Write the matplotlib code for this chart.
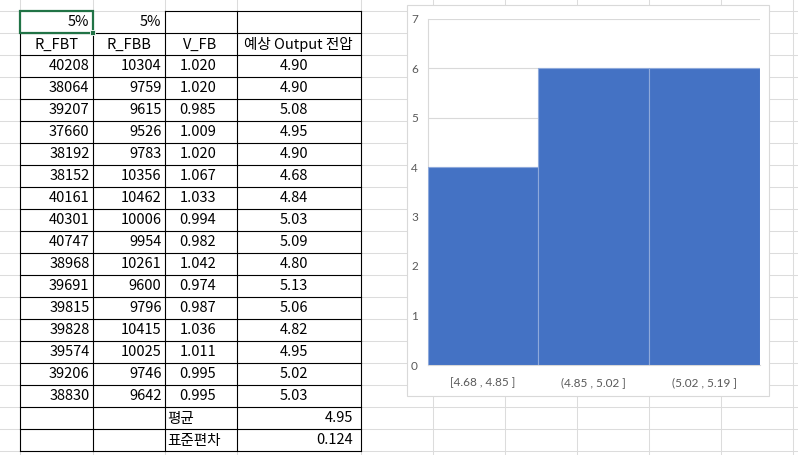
import matplotlib.pyplot as plt
import matplotlib.patches as patches

# table values read from the sheet
r_fbt = [40208, 38064, 39207, 37660, 38192, 38152, 40161, 40301, 40747, 38968, 39691, 39815, 39828, 39574, 39206, 38830]
r_fbb = [10304, 9759, 9615, 9526, 9783, 10356, 10462, 10006, 9954, 10261, 9600, 9796, 10415, 10025, 9746, 9642]
v_fb = [1.020, 1.020, 0.985, 1.009, 1.020, 1.067, 1.033, 0.994, 0.982, 1.042, 0.974, 0.987, 1.036, 1.011, 0.995, 0.995]
v_out = [4.90, 4.90, 5.08, 4.95, 4.90, 4.68, 4.84, 5.03, 5.09, 4.80, 5.13, 5.06, 4.82, 4.95, 5.02, 5.03]
headers = ['R_FBT', 'R_FBB', 'V_FB', '예상 Output 전압']
tolerance = ['5%', '5%']
mean_label, mean_val = '평균', '4.95'
std_label, std_val = '표준편차', '0.124'

# histogram
bins = ['[4.68 , 4.85 ]', '(4.85 , 5.02 ]', '(5.02 , 5.19 ]']
counts = [4, 6, 6]

W, H = 798, 455
fig = plt.figure(figsize=(W / 100, H / 100), dpi=100)
bg = fig.add_axes([0, 0, 1, 1])
bg.set_xlim(0, W)
bg.set_ylim(H, 0)
bg.axis('off')

kr = ['Noto Sans CJK KR', 'DejaVu Sans']
fs = 10.5

cols = [20, 92.5, 164.5, 236.5, 361, 433, 505, 577, 649, 721, 793]
rows = [10.5 + 22 * k for k in range(21)]

# sheet gridlines
for x in cols:
    bg.plot([x, x], [0, H], color='#dcdcdc', lw=0.75, zorder=1)
for y in rows:
    bg.plot([0, W], [y, y], color='#dcdcdc', lw=0.75, zorder=1)

# black table borders
tx = cols[:5]
for i in range(1, 21):
    bg.plot([tx[0], tx[4]], [rows[i], rows[i]], color='black', lw=0.8, zorder=2)
bg.plot([tx[2], tx[4]], [rows[0], rows[0]], color='black', lw=0.8, zorder=2)
for j, x in enumerate(tx):
    y0 = rows[0] if j >= 2 else rows[1]
    bg.plot([x, x], [y0, rows[20]], color='black', lw=0.8, zorder=2)

# selected cell
bg.add_patch(patches.Rectangle((tx[0], rows[0]), tx[1] - tx[0], rows[1] - rows[0],
                               fill=False, edgecolor='#217346', lw=1.6, zorder=3))
bg.add_patch(patches.Rectangle((tx[1] - 2.5, rows[1] - 2.5), 5, 5,
                               facecolor='#217346', edgecolor='white', lw=0.6, zorder=4))

def cy(i):
    return (rows[i] + rows[i + 1]) / 2 + 1

bg.text(tx[1] - 3, cy(0), tolerance[0], ha='right', va='center', fontsize=fs, family=kr)
bg.text(tx[2] - 3, cy(0), tolerance[1], ha='right', va='center', fontsize=fs, family=kr)
for j, h in enumerate(headers):
    bg.text((tx[j] + tx[j + 1]) / 2, cy(1), h, ha='center', va='center', fontsize=fs, family=kr)
for i in range(len(r_fbt)):
    r = i + 2
    bg.text(tx[1] - 3, cy(r), str(r_fbt[i]), ha='right', va='center', fontsize=fs, family=kr)
    bg.text(tx[2] - 3, cy(r), str(r_fbb[i]), ha='right', va='center', fontsize=fs, family=kr)
    bg.text(198, cy(r), '%.3f' % v_fb[i], ha='center', va='center', fontsize=fs, family=kr)
    bg.text(294, cy(r), '%.2f' % v_out[i], ha='center', va='center', fontsize=fs, family=kr)
bg.text(tx[2] + 3, cy(18), mean_label, ha='left', va='center', fontsize=fs, family=kr)
bg.text(tx[4] - 8, cy(18), mean_val, ha='right', va='center', fontsize=fs, family=kr)
bg.text(tx[2] + 3, cy(19), std_label, ha='left', va='center', fontsize=fs, family=kr)
bg.text(tx[4] - 8, cy(19), std_val, ha='right', va='center', fontsize=fs, family=kr)

# chart frame
bg.add_patch(patches.Rectangle((407, 5), 362, 391, facecolor='white',
                               edgecolor='#d9d9d9', lw=0.8, zorder=5))

# chart plot area
l, r, t, b = 427.7, 760, 18.5, 365
ax = fig.add_axes([l / W, (H - b) / H, (r - l) / W, (b - t) / H])
ax.bar(range(len(counts)), counts, width=1.0, color='#4472C4', edgecolor='#8EA9DB', lw=0.8, zorder=3)
ax.set_xlim(-0.5, len(counts) - 0.5)
ax.set_ylim(0, 7)
ax.set_yticks(range(8))
ax.set_xticks(range(len(counts)))
ax.set_xticklabels(bins, family='Lato')
for lab in ax.get_yticklabels():
    lab.set_family('Lato')
ax.yaxis.grid(True, color='#d9d9d9', lw=0.8)
ax.set_axisbelow(True)
for s in ['top', 'right']:
    ax.spines[s].set_visible(False)
ax.spines['left'].set_color('#d9d9d9')
ax.spines['bottom'].set_color('#d9d9d9')
ax.tick_params(length=0, colors='#595959', labelsize=8.5)
ax.tick_params(axis='y', pad=7)
ax.tick_params(axis='x', pad=9)
ax.set_facecolor('none')

fig.savefig('out.png', dpi=100)
